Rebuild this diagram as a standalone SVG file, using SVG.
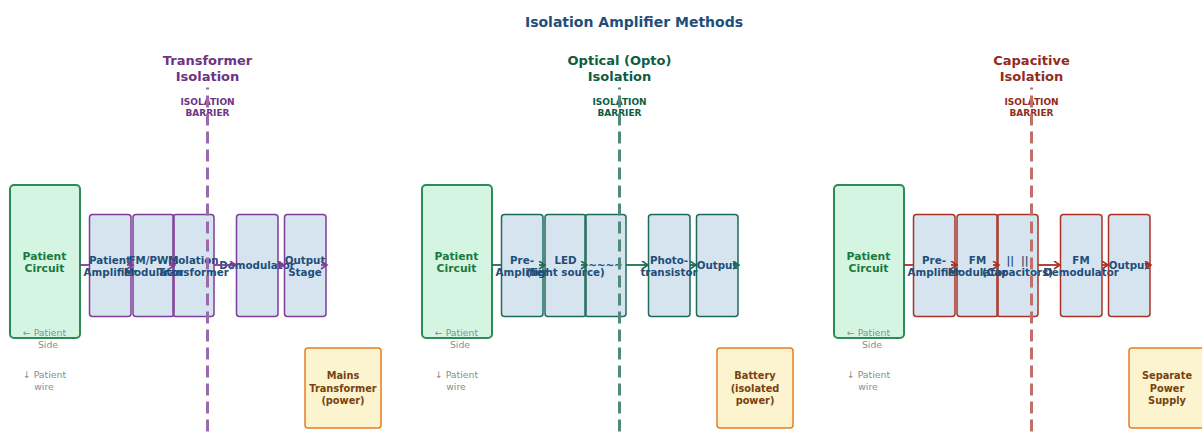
<svg xmlns="http://www.w3.org/2000/svg" width="1202" height="435" viewBox="0 0 1202 435">
<defs>
<style>
text{font-family:"DejaVu Sans","Liberation Sans",sans-serif;text-anchor:middle}
.title{font-size:14px;font-weight:bold;fill:#1f4e79}
.ptitle{font-size:13px;font-weight:bold}
.bar{font-size:9px;font-weight:bold}
.barline{stroke-width:3;stroke-dasharray:12 6;stroke-dashoffset:10;fill:none}
.pc rect{fill:#d5f5e3;stroke:#2e8b57;stroke-width:2}
.pc text{font-size:10.8px;font-weight:bold;fill:#1a7a3c}
.fill rect{fill:#d6e4f0;stroke:none}
.blk rect{fill:none;stroke-width:1.5}
.blk text{font-size:10.3px;font-weight:bold;fill:#1f4e79}
.pw rect{fill:#fcf3cf;stroke:#e67e22;stroke-width:1.5}
.pw text{font-size:9.8px;font-weight:bold;fill:#784212}
.note{font-size:9.3px;fill:#8c8c8c}
.p1 .blk rect{stroke:#7d3c98}
.p2 .blk rect{stroke:#1e6b58}
.p3 .blk rect{stroke:#a93226}
.c1{stroke:#7d3c98;stroke-width:1.8;fill:none}
.c2{stroke:#1e6b58;stroke-width:1.8;fill:none}
.c3{stroke:#a93226;stroke-width:1.8;fill:none}
</style>
<marker id="m1" markerUnits="userSpaceOnUse" markerWidth="10" markerHeight="10" refX="7" refY="4.5" orient="auto"><path d="M1,0.5 L7,4.5 L1,8.5" fill="none" stroke="#7d3c98" stroke-width="1.6"/></marker>
<marker id="m2" markerUnits="userSpaceOnUse" markerWidth="10" markerHeight="10" refX="7" refY="4.5" orient="auto"><path d="M1,0.5 L7,4.5 L1,8.5" fill="none" stroke="#1e6b58" stroke-width="1.6"/></marker>
<marker id="m3" markerUnits="userSpaceOnUse" markerWidth="10" markerHeight="10" refX="7" refY="4.5" orient="auto"><path d="M1,0.5 L7,4.5 L1,8.5" fill="none" stroke="#a93226" stroke-width="1.6"/></marker>
</defs>
<rect width="1202" height="435" fill="#ffffff"/>
<text id="main-title" class="title" x="634" y="27">Isolation Amplifier Methods</text>

<!-- block fills (drawn first so that overflowing labels stay visible) -->
<g id="block-fills" class="fill">
<rect x="89.5" y="214.5" width="41.5" height="102" rx="3"/>
<rect x="133" y="214.5" width="41" height="102" rx="3"/>
<rect x="173" y="214.5" width="41" height="102" rx="3"/>
<rect x="236.5" y="214.5" width="41.5" height="102" rx="3"/>
<rect x="284.5" y="214.5" width="41.5" height="102" rx="3"/>
<rect x="501.5" y="214.5" width="41.5" height="102" rx="3"/>
<rect x="545" y="214.5" width="41" height="102" rx="3"/>
<rect x="585" y="214.5" width="41" height="102" rx="3"/>
<rect x="648.5" y="214.5" width="41.5" height="102" rx="3"/>
<rect x="696.5" y="214.5" width="41.5" height="102" rx="3"/>
<rect x="913.5" y="214.5" width="41.5" height="102" rx="3"/>
<rect x="957" y="214.5" width="41" height="102" rx="3"/>
<rect x="997" y="214.5" width="41" height="102" rx="3"/>
<rect x="1060.5" y="214.5" width="41.5" height="102" rx="3"/>
<rect x="1108.5" y="214.5" width="41.5" height="102" rx="3"/>
</g>

<!-- Panel 1: Transformer -->
<g class="p1">
<g id="p1-title"><text class="ptitle" fill="#6c3483" x="207.5" y="65">Transformer</text><text class="ptitle" fill="#6c3483" x="207.5" y="81">Isolation</text></g>
<g id="p1-patient" class="pc"><rect x="10" y="185" width="70" height="153" rx="4"/><text x="44.5" y="259.5">Patient</text><text x="44.5" y="272">Circuit</text></g>
<g id="p1-amp" class="blk"><rect x="89.5" y="214.5" width="41.5" height="102" rx="3"/><text x="110" y="263.5">Patient</text><text x="110" y="276">Amplifier</text></g>
<g id="p1-mod" class="blk"><rect x="133" y="214.5" width="41" height="102" rx="3"/><text x="153.5" y="263.5">FM/PWM</text><text x="153.5" y="276">Modulator</text></g>
<g id="p1-xfmr" class="blk"><rect x="173" y="214.5" width="41" height="102" rx="3"/><text x="193.5" y="263.5">Isolation</text><text x="193.5" y="276">Transformer</text></g>
<g id="p1-demod" class="blk"><rect x="236.5" y="214.5" width="41.5" height="102" rx="3"/><text x="257" y="269">Demodulator</text></g>
<g id="p1-out" class="blk"><rect x="284.5" y="214.5" width="41.5" height="102" rx="3"/><text x="305" y="263.5">Output</text><text x="305" y="276">Stage</text></g>
<g id="p1-power" class="pw"><rect x="305" y="348" width="76" height="80" rx="3"/><text x="343" y="379">Mains</text><text x="343" y="391.5">Transformer</text><text x="343" y="404">(power)</text></g>
<g id="p1-notes"><text class="note" x="44.5" y="336">← Patient</text><text class="note" x="48" y="348">Side</text><text class="note" x="44.5" y="378">↓ Patient</text><text class="note" x="44" y="390">wire</text></g>
</g>

<!-- Panel 2: Optical -->
<g class="p2">
<g id="p2-title"><text class="ptitle" fill="#0e5c45" x="619.5" y="65">Optical (Opto)</text><text class="ptitle" fill="#0e5c45" x="619.5" y="81">Isolation</text></g>
<g id="p2-patient" class="pc"><rect x="422" y="185" width="70" height="153" rx="4"/><text x="456.5" y="259.5">Patient</text><text x="456.5" y="272">Circuit</text></g>
<g id="p2-amp" class="blk"><rect x="501.5" y="214.5" width="41.5" height="102" rx="3"/><text x="522" y="263.5">Pre-</text><text x="522" y="276">Amplifier</text></g>
<g id="p2-led" class="blk"><rect x="545" y="214.5" width="41" height="102" rx="3"/><text x="565.5" y="263.5">LED</text><text x="565.5" y="276">(light source)</text></g>
<g id="p2-light" class="blk"><rect x="585" y="214.5" width="41" height="102" rx="3"/><text x="605.5" y="269">~~~~</text></g>
<g id="p2-photo" class="blk"><rect x="648.5" y="214.5" width="41.5" height="102" rx="3"/><text x="669" y="263.5">Photo-</text><text x="669" y="276">transistor</text></g>
<g id="p2-out" class="blk"><rect x="696.5" y="214.5" width="41.5" height="102" rx="3"/><text x="717" y="269">Output</text></g>
<g id="p2-power" class="pw"><rect x="717" y="348" width="76" height="80" rx="3"/><text x="755" y="379">Battery</text><text x="755" y="391.5">(isolated</text><text x="755" y="404">power)</text></g>
<g id="p2-notes"><text class="note" x="456.5" y="336">← Patient</text><text class="note" x="460" y="348">Side</text><text class="note" x="456.5" y="378">↓ Patient</text><text class="note" x="456" y="390">wire</text></g>
</g>

<!-- Panel 3: Capacitive -->
<g class="p3">
<g id="p3-title"><text class="ptitle" fill="#922b21" x="1031.5" y="65">Capacitive</text><text class="ptitle" fill="#922b21" x="1031.5" y="81">Isolation</text></g>
<g id="p3-patient" class="pc"><rect x="834" y="185" width="70" height="153" rx="4"/><text x="868.5" y="259.5">Patient</text><text x="868.5" y="272">Circuit</text></g>
<g id="p3-amp" class="blk"><rect x="913.5" y="214.5" width="41.5" height="102" rx="3"/><text x="934" y="263.5">Pre-</text><text x="934" y="276">Amplifier</text></g>
<g id="p3-mod" class="blk"><rect x="957" y="214.5" width="41" height="102" rx="3"/><text x="977.5" y="263.5">FM</text><text x="977.5" y="276">Modulator</text></g>
<g id="p3-caps" class="blk"><rect x="997" y="214.5" width="41" height="102" rx="3"/><text x="1017.5" y="263.5" xml:space="preserve">||  ||</text><text x="1017.5" y="276">(Capacitors)</text></g>
<g id="p3-demod" class="blk"><rect x="1060.5" y="214.5" width="41.5" height="102" rx="3"/><text x="1081" y="263.5">FM</text><text x="1081" y="276">Demodulator</text></g>
<g id="p3-out" class="blk"><rect x="1108.5" y="214.5" width="41.5" height="102" rx="3"/><text x="1129" y="269">Output</text></g>
<g id="p3-power" class="pw"><rect x="1129" y="348" width="76" height="80" rx="3"/><text x="1167" y="379">Separate</text><text x="1167" y="391.5">Power</text><text x="1167" y="404">Supply</text></g>
<g id="p3-notes"><text class="note" x="868.5" y="336">← Patient</text><text class="note" x="872" y="348">Side</text><text class="note" x="868.5" y="378">↓ Patient</text><text class="note" x="868" y="390">wire</text></g>
</g>

<g id="connectors">
<path class="c1" d="M80,265 H89"/>
<path class="c1" d="M127,265 H133" marker-end="url(#m1)"/>
<path class="c1" d="M169,265 H175" marker-end="url(#m1)"/>
<path class="c1" d="M214,265 H236" marker-end="url(#m1)"/>
<path class="c1" d="M278,265 H284" marker-end="url(#m1)"/>
<path class="c1" d="M321,265 H327" marker-end="url(#m1)"/>
<path class="c2" d="M492,265 H501"/>
<path class="c2" d="M539,265 H545" marker-end="url(#m2)"/>
<path class="c2" d="M581,265 H587" marker-end="url(#m2)"/>
<path class="c2" d="M626,265 H648" marker-end="url(#m2)"/>
<path class="c2" d="M690,265 H696" marker-end="url(#m2)"/>
<path class="c2" d="M733,265 H739" marker-end="url(#m2)"/>
<path class="c3" d="M904,265 H913"/>
<path class="c3" d="M951,265 H957" marker-end="url(#m3)"/>
<path class="c3" d="M993,265 H999" marker-end="url(#m3)"/>
<path class="c3" d="M1038,265 H1060" marker-end="url(#m3)"/>
<path class="c3" d="M1102,265 H1108" marker-end="url(#m3)"/>
<path class="c3" d="M1145,265 H1151" marker-end="url(#m3)"/>
</g>

<!-- isolation barriers (drawn on top) -->
<g id="p1-barrier"><text class="bar" fill="#6c3483" x="207.5" y="104.5">ISOLATION</text><text class="bar" fill="#6c3483" x="207.5" y="116">BARRIER</text><line class="barline" stroke="#9b6aaa" x1="207.5" y1="87.5" x2="207.5" y2="435"/></g>
<g id="p2-barrier"><text class="bar" fill="#0e5c45" x="619.5" y="104.5">ISOLATION</text><text class="bar" fill="#0e5c45" x="619.5" y="116">BARRIER</text><line class="barline" stroke="#4f8a7a" x1="619.5" y1="87.5" x2="619.5" y2="435"/></g>
<g id="p3-barrier"><text class="bar" fill="#922b21" x="1031.5" y="104.5">ISOLATION</text><text class="bar" fill="#922b21" x="1031.5" y="116">BARRIER</text><line class="barline" stroke="#c0706a" x1="1031.5" y1="87.5" x2="1031.5" y2="435"/></g>
</svg>
